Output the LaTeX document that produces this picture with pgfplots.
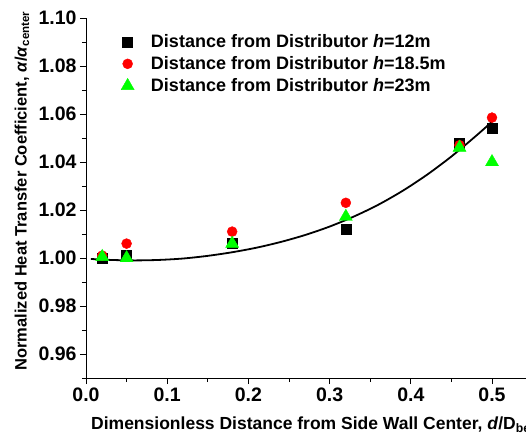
\documentclass[border=0pt]{standalone}
\usepackage{fontspec}
\setmainfont{Liberation Sans}
\usepackage{pgfplots}
\pgfplotsset{compat=1.18}
\begin{document}
\begin{tikzpicture}
\begin{axis}[
  name=ax,
  scale only axis,
  width=446.6pt, height=360pt,
  xmin=0, xmax=0.55, ymin=0.95, ymax=1.10,
  axis x line=bottom, axis y line=left,
  axis line style={-, line width=0.8pt},
  tick align=outside,
  major tick length=6pt, minor tick length=4pt,
  tick style={line width=0.8pt, black},
  xtick={0,0.1,0.2,0.3,0.4,0.5},
  minor xtick={0.05,0.15,0.25,0.35,0.45,0.55},
  ytick={0.96,0.98,1.00,1.02,1.04,1.06,1.08,1.10},
  minor ytick={0.95,0.97,0.99,1.01,1.03,1.05,1.07,1.09},
  /pgf/number format/assume math mode=true,
  xticklabel style={/pgf/number format/.cd, fixed, fixed zerofill, precision=1},
  yticklabel style={/pgf/number format/.cd, fixed, fixed zerofill, precision=2},
  tick label style={font=\bfseries\fontsize{19.5}{19.5}\selectfont},
  xlabel={Dimensionless Distance from Side Wall Center, \textit{d}/D\textsubscript{bed}},
  ylabel={Normalized Heat Transfer Coefficient, \textit{α}/\textit{α}\textsubscript{center}},
  xlabel style={font=\bfseries\fontsize{17.5}{17.5}\selectfont, at={(axis description cs:0.512,-0.131)}, anchor=center},
  ylabel style={font=\bfseries\fontsize{16.5}{16.5}\selectfont, at={(axis description cs:-0.1433,0.52)}, anchor=center},
  legend image code/.code={\draw[#1] plot coordinates {(0cm,0cm)}; \path[draw=none,fill=none] (-0.3cm,0cm) -- (0.75cm,0cm);},
  legend style={at={(axis description cs:0.067,0.963)}, anchor=north west, draw=none, fill=none,
    font=\bfseries\fontsize{18}{18}\selectfont, row sep=3.5pt, inner ysep=1pt},
  legend cell align=left,
]
\addplot[only marks, mark=square*, mark size=5pt, black] coordinates {
 (0.02,1.000) (0.05,1.001) (0.18,1.006) (0.32,1.012) (0.46,1.048) (0.50,1.054)};
\addlegendentry{Distance from Distributor \textit{h}=12m}
\addplot[only marks, mark=*, mark size=5pt, red] coordinates {
 (0.02,1.001) (0.05,1.006) (0.18,1.011) (0.32,1.023) (0.46,1.047) (0.50,1.0585)};
\addlegendentry{Distance from Distributor \textit{h}=18.5m}
\addplot[only marks, mark=triangle*, mark size=7.5pt, green] coordinates {
 (0.02,1.0005) (0.05,1.000) (0.18,1.006) (0.32,1.0172) (0.46,1.046) (0.50,1.040)};
\addlegendentry{Distance from Distributor \textit{h}=23m}
\addplot[black, line width=1.8pt, smooth, forget plot] coordinates {
 (0.006,0.9996) (0.03,0.9992) (0.06,0.9990) (0.09,0.9992) (0.12,0.9998) (0.15,1.0009)
 (0.18,1.0024) (0.21,1.0043) (0.24,1.0067) (0.27,1.0096) (0.30,1.0131) (0.33,1.0173)
 (0.36,1.0222) (0.39,1.0280) (0.42,1.0347) (0.45,1.0423) (0.48,1.0508) (0.50,1.0568)};
\end{axis}
\pgfresetboundingbox
\useasboundingbox ([xshift=-86pt,yshift=-62pt]ax.south west) rectangle ([xshift=440pt,yshift=378pt]ax.south west);
\end{tikzpicture}
\end{document}
